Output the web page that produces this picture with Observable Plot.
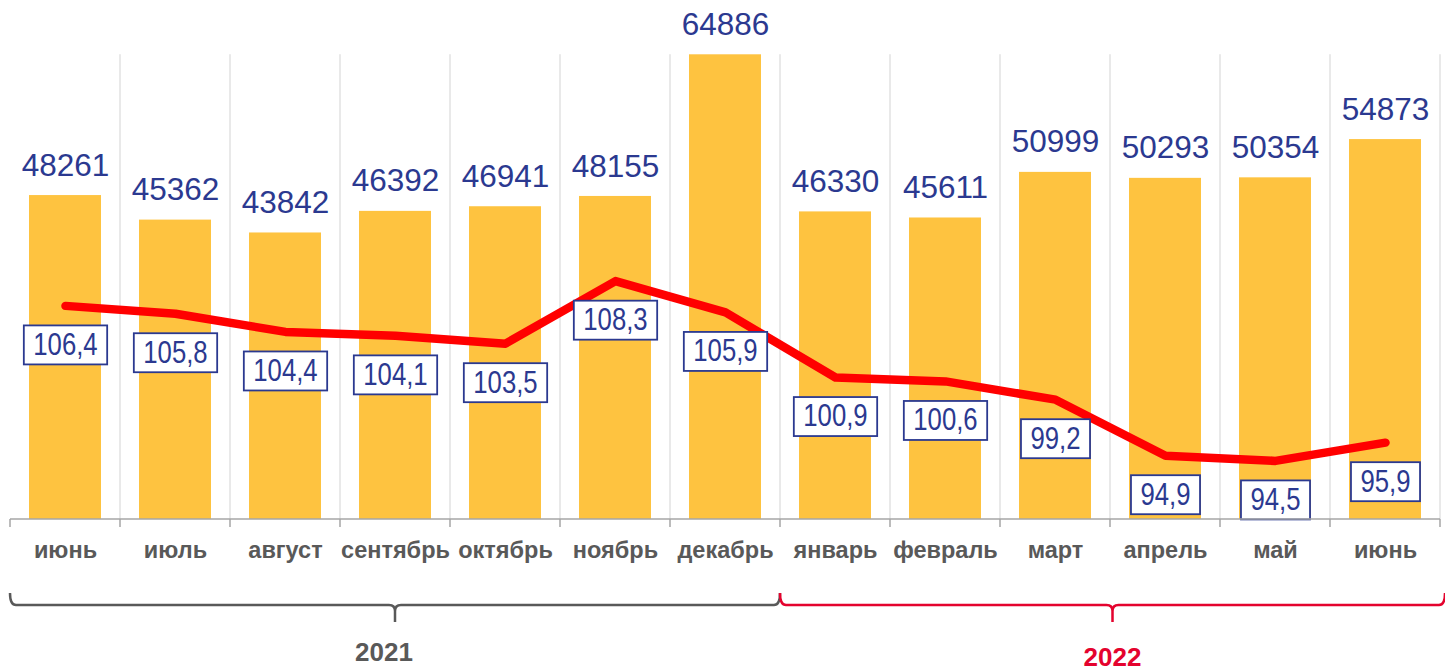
<!DOCTYPE html>
<html>
<head>
<meta charset="utf-8">
<script src="https://cdn.jsdelivr.net/npm/d3@7"></script>
<script src="https://cdn.jsdelivr.net/npm/@observablehq/plot@0.6"></script>
<style>
  html, body { margin: 0; padding: 0; background: #fff; }
</style>
</head>
<body>
<script>
// ---- data ----
const months = ["июнь","июль","август","сентябрь","октябрь","ноябрь","декабрь","январь","февраль","март","апрель","май","июнь"];
const wages = [48261,45362,43842,46392,46941,48155,64886,46330,45611,50999,50293,50354,54873];
const indexValues = [106.4,105.8,104.4,104.1,103.5,108.3,105.9,100.9,100.6,99.2,94.9,94.5,95.9];
const years = ["2021","2022"];
const monthsPerYear = [7, 6];
const yearColors = ["#595959", "#E4032E"];

// ---- scales ----
const barDomain = [10000, 70000];
const lineDomain = [90, 129];
const toBar = v => barDomain[0] + (v - lineDomain[0]) * (barDomain[1] - barDomain[0]) / (lineDomain[1] - lineDomain[0]);
const fmt = v => v.toFixed(1).replace(".", ",");

const data = months.map((m, i) => ({i, month: m, wage: wages[i], idx: indexValues[i]}));

const navy = "#2B3990";

const chart = Plot.plot({
  width: 1445,
  height: 670,
  marginTop: 11,
  marginBottom: 151,
  marginLeft: 10,
  marginRight: 5,
  style: {fontFamily: "'Liberation Sans', Arial, sans-serif", background: "white", overflow: "visible"},
  x: {type: "band", domain: d3.range(months.length), paddingInner: 0.345, paddingOuter: 0.1725, axis: null},
  y: {domain: barDomain, axis: null},
  marks: [
    Plot.barY(data, {x: "i", y1: barDomain[0], y2: "wage", fill: "#FEC340"}),
    Plot.text(data, {x: "i", y: "wage", text: d => String(d.wage), dy: -30, fill: navy, fontSize: 31.5}),
    Plot.lineY(data, {x: "i", y: d => toBar(d.idx), stroke: "#FF0000", strokeWidth: 8.5, strokeLinecap: "round", strokeLinejoin: "round"}),
    Plot.text(data, {x: "i", y: d => toBar(d.idx), dy: 39, text: d => fmt(d.idx), fill: navy, fontSize: 31,
      ariaDescription: "boxlabels"}),
    Plot.axisX({tickSize: 0, tickPadding: 22, fontSize: 23.5, fontWeight: "bold", fill: "#595959", label: null, tickFormat: i => months[i]})
  ]
});

document.body.append(chart);

const sx = chart.scale("x");
const sy = chart.scale("y");
const step = sx.step;
const x0 = sx.apply(0) + sx.bandwidth / 2 - step / 2;
const boundary = k => x0 + k * step;
const base = sy.apply(barDomain[0]);
const gridTop = sy.apply(d3.max(wages));
const svg = d3.select(chart);

// gridlines behind everything
const grid = svg.insert("g", ":first-child");
for (let k = 1; k <= months.length; k++) {
  grid.append("line").attr("x1", boundary(k)).attr("x2", boundary(k))
    .attr("y1", gridTop).attr("y2", base).attr("stroke", "#dadada").attr("stroke-width", 1.2);
}

// axis line and ticks
const ax = svg.append("g").attr("stroke", "#a6a6a6").attr("stroke-width", 1.5);
ax.append("line").attr("x1", boundary(0)).attr("x2", boundary(months.length)).attr("y1", base).attr("y2", base);
for (let k = 0; k <= months.length; k++) {
  ax.append("line").attr("x1", boundary(k)).attr("x2", boundary(k)).attr("y1", base).attr("y2", base + 8);
}

// boxes round the index labels (condensed text)
const squeeze = 0.83;
svg.selectAll('g[aria-description="boxlabels"] text').each(function() {
  let tx = 0, ty = 0;
  const tr = this.getAttribute("transform");
  const m = tr && tr.match(/translate\(\s*([-\d.e]+)[ ,]+([-\d.e]+)\s*\)/);
  if (m) { tx = +m[1]; ty = +m[2]; }
  else { tx = +(this.getAttribute("x") || 0); ty = +(this.getAttribute("y") || 0); this.removeAttribute("x"); this.removeAttribute("y"); }
  this.setAttribute("transform", `translate(${tx},${ty}) scale(${squeeze},1)`);
  const b = this.getBBox();
  const padX = 9.5;
  const r = document.createElementNS("http://www.w3.org/2000/svg", "rect");
  r.setAttribute("x", tx + b.x * squeeze - padX);
  r.setAttribute("y", ty + b.y + b.height / 2 - 19.5 + 1);
  r.setAttribute("width", b.width * squeeze + 2 * padX);
  r.setAttribute("height", 39);
  r.setAttribute("fill", "white");
  r.setAttribute("stroke", navy);
  r.setAttribute("stroke-width", 1.8);
  this.parentNode.insertBefore(r, this);
});

// year braces
let startIdx = 0;
years.forEach((yr, j) => {
  const a = boundary(startIdx);
  const bEnd = j === years.length - 1 ? 1445 : boundary(startIdx + monthsPerYear[j]);
  const mid = (a + bEnd) / 2;
  const yTop = base + 74, yH = base + 86, yTip = base + 103;
  const p = `M${a},${yTop} Q${a},${yH} ${a + 6},${yH} H${mid - 6} Q${mid},${yH} ${mid},${yH + 6} V${yTip} M${mid},${yH + 6} Q${mid},${yH} ${mid + 6},${yH} H${bEnd - 6} Q${bEnd},${yH} ${bEnd},${yTop}`;
  svg.append("path").attr("d", p).attr("fill", "none").attr("stroke", yearColors[j]).attr("stroke-width", 2.5);
  svg.append("text").attr("x", mid + (j === 0 ? -11 : 0)).attr("y", base + 142 + j * 5).attr("text-anchor", "middle")
    .attr("font-size", 26).attr("font-weight", "bold").attr("fill", yearColors[j])
    .attr("font-family", "'Liberation Sans', Arial, sans-serif").text(yr);
  startIdx += monthsPerYear[j];
});
</script>
</body>
</html>
